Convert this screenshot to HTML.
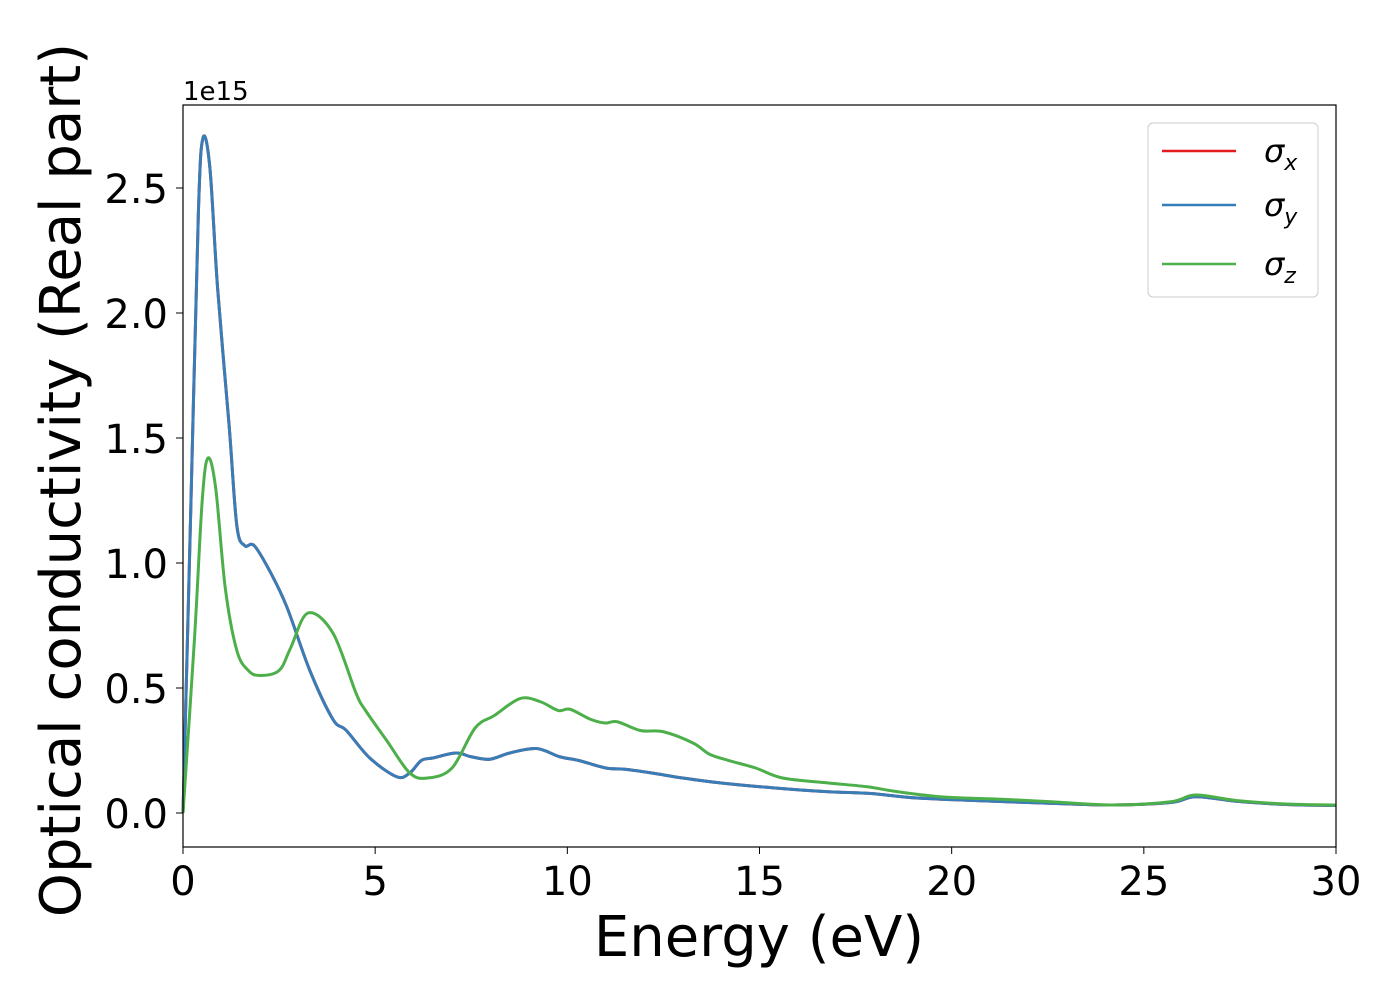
<!DOCTYPE html>
<html><head><meta charset="utf-8"><style>
body{margin:0;background:#fff;}
svg{display:block;font-family:"DejaVu Sans","Liberation Sans",sans-serif;}
</style></head><body>
<svg id="chart" width="1400" height="1000" viewBox="0 0 1400 1000" xmlns="http://www.w3.org/2000/svg">
<rect width="1400" height="1000" fill="#fff"/>
<g id="series"></g>
<g id="axes"></g>
<rect x="183" y="105" width="1153" height="742" fill="none" stroke="#000" stroke-width="1.2"/>
<text x="183" y="100" font-size="26">1e15</text>
<text x="759" y="956" font-size="56" text-anchor="middle">Energy (eV)</text>
<text transform="translate(80,480) rotate(-90)" font-size="56" text-anchor="middle">Optical conductivity (Real part)</text>
<g>
<rect x="1148" y="123" width="170" height="174" rx="5" fill="#fff" stroke="#ccc" stroke-width="1"/>
<line x1="1162" y1="151" x2="1236" y2="151" stroke="#e41a1c" stroke-width="2.5"/>
<text x="1264" y="162" font-size="32" font-style="italic">σ<tspan font-size="22" dy="8">x</tspan></text>
<line x1="1162" y1="205" x2="1236" y2="205" stroke="#377eb8" stroke-width="2.5"/>
<text x="1264" y="216" font-size="32" font-style="italic">σ<tspan font-size="22" dy="8">y</tspan></text>
<line x1="1162" y1="264" x2="1236" y2="264" stroke="#4daf4a" stroke-width="2.5"/>
<text x="1264" y="275" font-size="32" font-style="italic">σ<tspan font-size="22" dy="8">z</tspan></text>
</g>
</svg>
<script>
const energyXY=[0,0.2,0.4,0.52,0.7,0.9,1.2,1.4,1.6,1.85,2.25,2.7,3.3,3.9,4.25,4.86,5.56,5.9,6.2,6.5,7.1,7.5,7.98,8.5,9.2,9.8,10.3,11,11.5,12.2,13,14,15.4,16.8,17.9,19.1,21.1,23.1,24.2,25.7,26.35,27.4,28.7,30];
const sigmaXY=[0,1.2,2.4,2.70,2.58,2.1,1.55,1.15,1.07,1.07,0.97,0.825,0.57,0.375,0.33,0.22,0.145,0.16,0.21,0.22,0.24,0.225,0.215,0.24,0.258,0.225,0.21,0.18,0.175,0.16,0.14,0.12,0.1,0.085,0.078,0.06,0.047,0.036,0.032,0.042,0.065,0.047,0.034,0.03];
const energyZ=[0,0.3,0.5,0.65,0.85,1.1,1.4,1.7,2.0,2.5,2.8,3.25,3.9,4.5,4.75,5.3,5.9,6.37,7.0,7.6,8.1,8.77,9.3,9.76,10.07,10.6,10.98,11.3,11.9,12.5,13.27,13.7,14.2,14.9,15.6,16.8,17.8,18.6,19.8,21.3,22.6,24.2,25.7,26.35,27.4,28.7,30];
const sigmaZ=[0,0.7,1.25,1.42,1.3,0.9,0.65,0.57,0.55,0.57,0.66,0.80,0.72,0.48,0.41,0.29,0.16,0.14,0.18,0.34,0.39,0.458,0.445,0.41,0.415,0.375,0.36,0.365,0.33,0.325,0.28,0.235,0.21,0.18,0.14,0.12,0.105,0.085,0.064,0.055,0.045,0.032,0.045,0.072,0.05,0.036,0.032];
const xTicks=[0,5,10,15,20,25,30];
const yTicks=[0,0.5,1.0,1.5,2.0,2.5];
const yTickLabels=["0.0","0.5","1.0","1.5","2.0","2.5"];
const NS="http://www.w3.org/2000/svg";
function xs(e){return 183+(e/30)*1153;}
function ys(v){return 813-250*v;}
function pathFrom(ex,vy){
  const p=ex.map((e,i)=>[xs(e),ys(vy[i])]);
  let d="M"+p[0][0]+","+p[0][1];
  for(let i=0;i<p.length-1;i++){
    const p0=p[i-1]||p[i],p1=p[i],p2=p[i+1],p3=p[i+2]||p2;
    const c1=[p1[0]+(p2[0]-p0[0])/6,p1[1]+(p2[1]-p0[1])/6];
    const c2=[p2[0]-(p3[0]-p1[0])/6,p2[1]-(p3[1]-p1[1])/6];
    d+=" C"+c1[0]+","+c1[1]+" "+c2[0]+","+c2[1]+" "+p2[0]+","+p2[1];
  }
  return d;
}
const sg=document.getElementById("series");
function addLine(ex,vy,color,name){
  const el=document.createElementNS(NS,"path");
  el.setAttribute("d",pathFrom(ex,vy));
  el.setAttribute("fill","none");
  el.setAttribute("stroke",color);
  el.setAttribute("stroke-width","3");
  el.setAttribute("stroke-linejoin","round");
  
  
  sg.appendChild(el);
}
addLine(energyXY,sigmaXY,"#e41a1c","line-sigma-x");
addLine(energyXY,sigmaXY,"#377eb8","line-sigma-y");
addLine(energyZ,sigmaZ,"#4daf4a","line-sigma-z");
const ax=document.getElementById("axes");
xTicks.forEach(t=>{
  const l=document.createElementNS(NS,"line");
  l.setAttribute("x1",xs(t));l.setAttribute("x2",xs(t));
  l.setAttribute("y1",847);l.setAttribute("y2",854);
  l.setAttribute("stroke","#000");
  
  
  ax.appendChild(l);
  const tx=document.createElementNS(NS,"text");
  tx.setAttribute("x",xs(t));tx.setAttribute("y",895);
  tx.setAttribute("font-size","40");tx.setAttribute("text-anchor","middle");
  tx.textContent=String(t);
  
  
  ax.appendChild(tx);
});
yTicks.forEach((t,i)=>{
  const l=document.createElementNS(NS,"line");
  l.setAttribute("x1",176);l.setAttribute("x2",183);
  l.setAttribute("y1",ys(t));l.setAttribute("y2",ys(t));
  l.setAttribute("stroke","#000");
  
  
  ax.appendChild(l);
  const tx=document.createElementNS(NS,"text");
  tx.setAttribute("x",168);tx.setAttribute("y",ys(t)+15);
  tx.setAttribute("font-size","40");tx.setAttribute("text-anchor","end");
  tx.textContent=yTickLabels[i];
  
  
  ax.appendChild(tx);
});
</script>
</body></html>
